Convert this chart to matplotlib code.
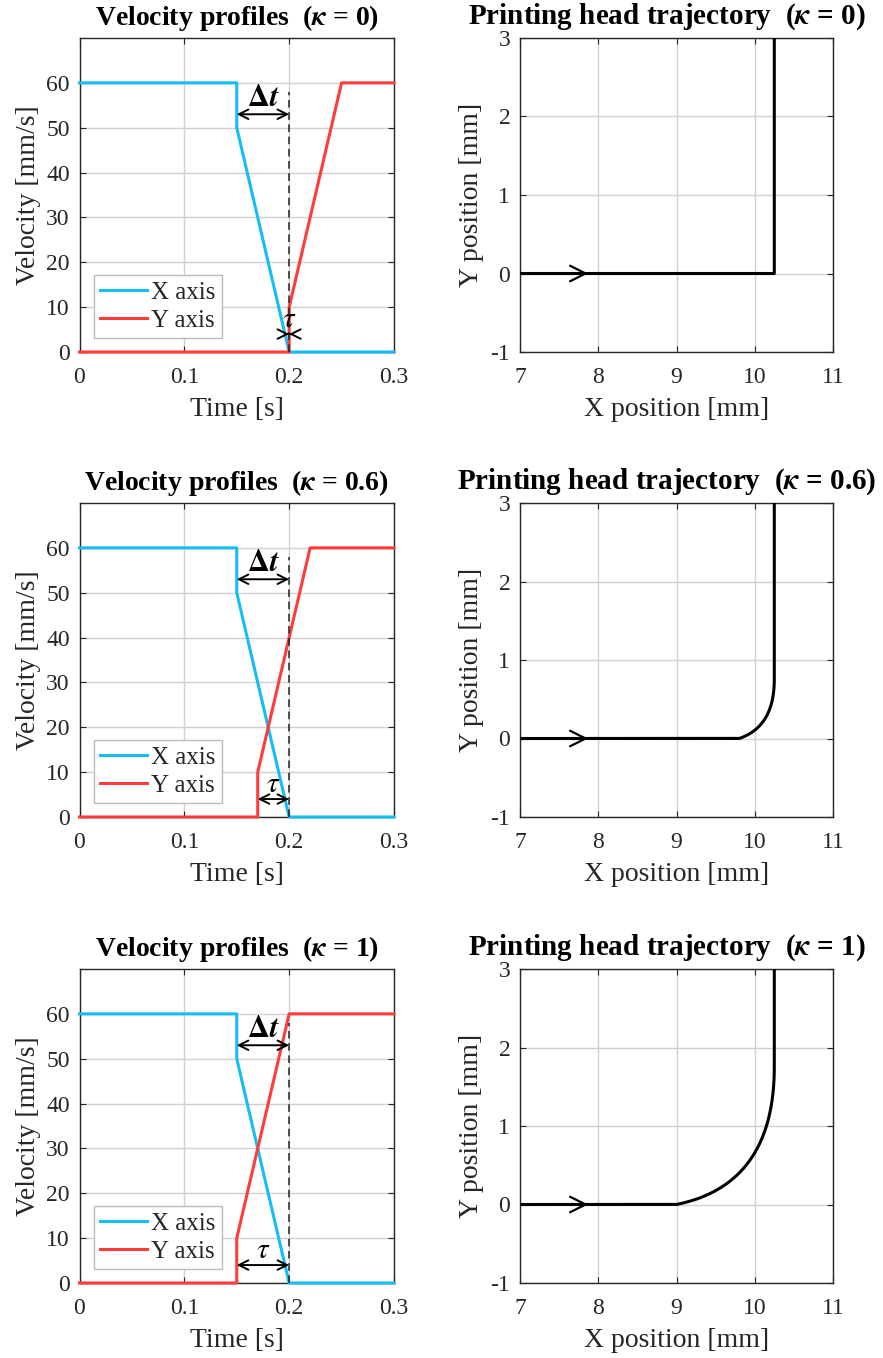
import numpy as np
import matplotlib
matplotlib.use("Agg")
import matplotlib.pyplot as plt

plt.rcParams['font.family'] = ['Liberation Serif', 'DejaVu Serif']
plt.rcParams['mathtext.fontset'] = 'stix'
plt.rcParams['axes.unicode_minus'] = False

# ---------------- data ----------------
kappas = ['0', '0.6', '1']
# X-axis velocity profile (same for all cases)
t_x = [0.0, 0.15, 0.15, 0.20, 0.30]
v_x = [60, 60, 50, 0, 0]
# Y-axis velocity profiles per kappa
t_y_list = [
    [0.0, 0.20, 0.20, 0.25, 0.30],
    [0.0, 0.17, 0.17, 0.22, 0.30],
    [0.0, 0.15, 0.15, 0.20, 0.30],
]
v_y = [0, 0, 10, 60, 60]
# annotation values
t_corner = 0.20          # dashed line time
dashed_top = 58
dt_start, dt_end, dt_level = 0.15, 0.20, 53
tau_start = [0.20, 0.17, 0.15]
tau_level = 4
arrow_tip_x = 7.87

vel_xticks = [0, 0.1, 0.2, 0.3]
vel_xticklabels = ['0', '0.1', '0.2', '0.3']
vel_yticks = [0, 10, 20, 30, 40, 50, 60]
pos_xticks = [7, 8, 9, 10, 11]
pos_yticks = [-1, 0, 1, 2, 3]

BLUE = '#14BEF5'
RED = '#FF3B3B'
TXT = '#262626'
GRID = '#D0D0D0'

fig = plt.figure(figsize=(8.83, 13.58), dpi=100)

left_x0, left_w = 79.5 / 883, 314.5 / 883
right_x0, right_w = 520 / 883, 313 / 883
bottoms = [1006 / 1358, 541 / 1358, 75 / 1358]
h = 314 / 1358

TICK_FS = 17
LABEL_FS = 20
TITLE_FS = 20


def style_axes(ax):
    ax.grid(True, color=GRID, lw=1.0)
    ax.set_axisbelow(True)
    for s in ax.spines.values():
        s.set_color(TXT)
        s.set_linewidth(1.0)
    ax.tick_params(direction='in', top=True, right=True, colors=TXT,
                   labelsize=TICK_FS, length=4, labelcolor=TXT)
    ax.tick_params(axis='x', pad=11)
    ax.tick_params(axis='y', pad=7)


def kappa_title(prefix, kap):
    return prefix + r'  ($\mathbfit{\kappa}$ = ' + kap + ')'


# fine time grid for integrating the trajectories
t = np.linspace(0, 0.3, 6001)

for i, (kap, t_y) in enumerate(zip(kappas, t_y_list)):
    # ---------------- velocity plot ----------------
    ax = fig.add_axes([left_x0, bottoms[i], left_w, h])
    style_axes(ax)
    ax.plot(t_x, v_x, color=BLUE, lw=2.2, label='X axis', clip_on=False, zorder=3)
    ax.plot(t_y, v_y, color=RED, lw=2.2, label='Y axis', clip_on=False, zorder=3)
    ax.plot([t_corner, t_corner], [0, dashed_top], color='#222222', lw=1.1,
            ls=(0, (5, 3)), zorder=4)
    ax.set_xlim(0, 0.3)
    ax.set_ylim(0, 70)
    ax.set_xticks(vel_xticks)
    ax.set_xticklabels(vel_xticklabels)
    ax.set_yticks(vel_yticks)
    ax.set_xlabel('Time [s]', fontsize=LABEL_FS, color=TXT, labelpad=6)
    ax.set_ylabel('Velocity [mm/s]', fontsize=LABEL_FS, color=TXT, labelpad=4)
    ax.set_title(kappa_title('Velocity profiles', kap), fontsize=TITLE_FS,
                 fontweight='bold', pad=9)
    # delta t arrow
    ax.annotate('', xy=(dt_start, dt_level), xytext=(dt_end, dt_level),
                arrowprops=dict(arrowstyle='<->', lw=1.4, color='k',
                                shrinkA=0, shrinkB=0, mutation_scale=17))
    ax.text((dt_start + dt_end) / 2, dt_level + 0.3, r'$\mathbf{\Delta}\mathbfit{t}$',
            ha='center', va='bottom', fontsize=22)
    # tau arrow
    ts = tau_start[i]
    x0 = ts if ts < t_corner else t_corner - 1e-4
    ax.annotate('', xy=(x0, tau_level), xytext=(t_corner, tau_level),
                arrowprops=dict(arrowstyle='<->', lw=1.4, color='k',
                                shrinkA=0, shrinkB=0, mutation_scale=17))
    ax.text((x0 + t_corner) / 2, tau_level + 0.3, r'$\tau$',
            ha='center', va='bottom', fontsize=21)
    leg = ax.legend(loc='lower left', bbox_to_anchor=(0.045, 0.045),
                    borderaxespad=0, fontsize=18, handlelength=1.9,
                    handletextpad=0.15, borderpad=0.25, labelspacing=0.2,
                    fancybox=False, framealpha=1, edgecolor='#BBBBBB')
    leg.get_frame().set_linewidth(1.0)
    for txt in leg.get_texts():
        txt.set_color(TXT)

    # ---------------- trajectory plot ----------------
    vx = np.interp(t, t_x, v_x)
    vy = np.interp(t, t_y, v_y)
    dt = np.diff(t)
    px = np.concatenate([[0], np.cumsum(0.5 * (vx[1:] + vx[:-1]) * dt)])
    py = np.concatenate([[0], np.cumsum(0.5 * (vy[1:] + vy[:-1]) * dt)])

    ax2 = fig.add_axes([right_x0, bottoms[i], right_w, h])
    style_axes(ax2)
    ax2.plot(px, py, color='k', lw=2.2, zorder=3)
    ax2.annotate('', xy=(arrow_tip_x, 0), xytext=(arrow_tip_x - 0.4, 0),
                 arrowprops=dict(arrowstyle='->', lw=1.6, color='k',
                                 shrinkA=0, shrinkB=0, mutation_scale=28))
    ax2.set_xlim(7, 11)
    ax2.set_ylim(-1, 3)
    ax2.set_xticks(pos_xticks)
    ax2.set_yticks(pos_yticks)
    ax2.set_xlabel('X position [mm]', fontsize=LABEL_FS, color=TXT, labelpad=6)
    ax2.set_ylabel('Y position [mm]', fontsize=LABEL_FS, color=TXT, labelpad=5)
    ax2.set_title(kappa_title('Printing head trajectory', kap), fontsize=21,
                  fontweight='bold', pad=10, x=0.47)

fig.savefig('out.png', dpi=100)
